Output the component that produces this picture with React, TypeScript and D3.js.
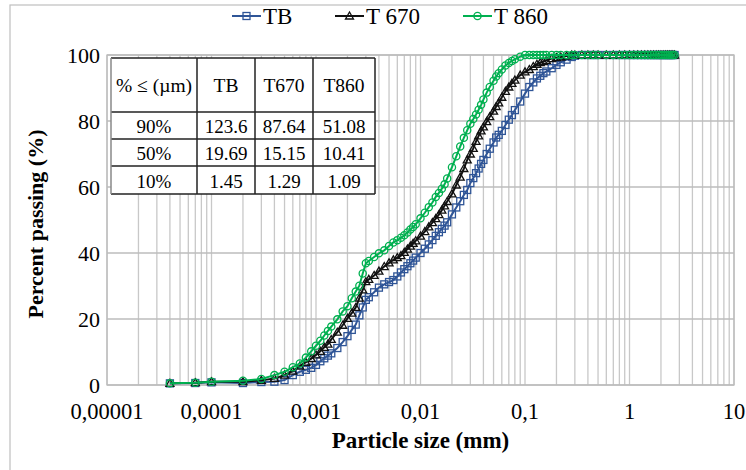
import React from 'react'
import * as d3 from 'd3'

// particle sizes (µm) shared by the three samples
const sizesUm = [
  0.04, 0.07, 0.1, 0.2, 0.3, 0.4, 0.5, 0.6, 0.7, 0.8, 0.9,
  1.0, 1.1, 1.2, 1.3, 1.4, 1.6, 1.8, 2.0, 2.2, 2.4, 2.6, 2.8, 3.0,
  3.2, 3.6, 4.0, 4.5, 5, 5.5, 6, 6.5, 7, 7.5, 8, 8.5, 9,
  10, 11, 12, 13, 14, 15, 16, 17, 18,
  20, 22, 24, 26, 28, 30, 32, 34, 36, 38, 40,
  43, 46, 50, 53, 56, 60, 65, 70, 75, 80, 90,
  100, 110, 120, 130, 140, 150, 160, 180, 200, 220, 250, 280,
  300, 350, 400, 450, 500, 600, 700, 800, 900,
  1000, 1100, 1200, 1300, 1400, 1500, 1600, 1700, 1800, 1900, 2000, 2100, 2200, 2300, 2400, 2500, 2600, 2700,
]

const tbPassing = [
  0.5, 0.6, 0.8, 0.6, 0.9, 1.0, 1.5, 3.0, 4.0, 4.6, 5.2,
  6.1, 7.2, 8.1, 8.9, 9.6, 11.2, 13.0, 14.8, 16.7, 18.3, 21.1, 23.5, 25.8,
  26.6, 28.1, 29.5, 30.5, 31.2, 31.8, 32.9, 34.1, 35.1, 36.0, 36.9, 37.7, 38.6,
  40.0, 41.3, 42.6, 43.9, 45.2, 46.3, 47.3, 48.3, 49.3,
  51.7, 53.8, 55.7, 57.6, 59.1, 61.2, 62.7, 64.2, 65.6, 67.0, 68.2,
  70.0, 71.6, 73.5, 75.0, 75.8, 77.0, 78.8, 80.4, 81.8, 83.3, 85.9,
  88.3, 90.3, 91.7, 92.9, 93.7, 94.5, 95.0, 96.0, 97.0, 97.8, 98.6, 99.4,
  99.8, 100, 100, 100, 100, 100, 100, 100, 100,
  100, 100, 100, 100, 100, 100, 100, 100, 100, 100, 100, 100, 100, 100, 100, 100, 100, 100,
]

const t670Passing = [
  0.5, 0.7, 1.0, 1.0, 1.4, 2.0, 3.0, 4.2, 5.7, 6.9, 8.0,
  9.1, 10.2, 11.4, 12.4, 13.8, 16.0, 18.1, 20.2, 21.8, 23.5, 26.3, 28.8, 31.3,
  32.0, 33.2, 34.5, 35.9, 37.0, 37.9, 38.6, 39.2, 40.2, 41.2, 42.1, 42.9, 43.7,
  45.1, 46.5, 47.9, 49.2, 50.4, 51.6, 53.0, 54.3, 55.6,
  57.9, 60.6, 63.0, 65.6, 68.2, 70.0, 71.7, 73.8, 75.5, 77.0, 78.2,
  79.8, 81.3, 83.0, 84.4, 85.5, 87.2, 89.0, 90.3, 91.4, 92.4, 93.9,
  94.9, 95.6, 96.5, 97.2, 97.7, 98.0, 98.4, 98.9, 99.2, 99.4, 99.7, 100,
  100, 100, 100, 100, 100, 100, 100, 100, 100,
  100, 100, 100, 100, 100, 100, 100, 100, 100, 100, 100, 100, 100, 100, 100, 100, 100, 100,
]

const t860Passing = [
  0.5, 0.7, 1.0, 1.3, 1.8, 3.0, 4.0, 5.4, 6.5, 8.3, 10.2,
  11.9, 13.4, 15.0, 16.4, 17.7, 19.9, 22.3, 23.9, 26.3, 28.3, 30.1, 33.8, 36.9,
  37.6, 38.8, 39.9, 40.8, 42.1, 43.2, 43.9, 44.6, 45.4, 46.2, 47.1, 47.9, 48.7,
  50.5, 52.2, 53.9, 55.3, 57.0, 58.2, 59.5, 60.8, 62.6,
  66.0, 69.3, 72.3, 74.9, 77.2, 79.2, 80.6, 82.0, 83.4, 84.9, 86.5,
  88.6, 90.3, 92.2, 93.5, 94.5, 95.6, 96.8, 97.6, 98.2, 98.7, 99.5,
  100, 100, 100, 100, 100, 100, 100, 100, 100, 100, 100, 100,
  100, 100, 100, 100, 100, 100, 100, 100, 100,
  100, 100, 100, 100, 100, 100, 100, 100, 100, 100, 100, 100, 100, 100, 100, 100, 100, 100,
]

const xTicks = [0.00001, 0.0001, 0.001, 0.01, 0.1, 1, 10]
const xTickLabels = ['0,00001', '0,0001', '0,001', '0,01', '0,1', '1', '10']
const yTicks = [0, 20, 40, 60, 80, 100]

const tableHead = ['% ≤ (µm)', 'TB', 'T670', 'T860']
const tableRows = [
  ['90%', '123.6', '87.64', '51.08'],
  ['50%', '19.69', '15.15', '10.41'],
  ['10%', '1.45', '1.29', '1.09'],
]

const FONT = '"Liberation Serif", "Times New Roman", serif'
const W = 746
const H = 470
const plot = { left: 107, right: 734, top: 55, bottom: 385 }

const series = [
  { name: 'TB', color: '#2F5597', marker: 'square', values: tbPassing },
  { name: 'T 670', color: '#111111', marker: 'triangle', values: t670Passing },
  { name: 'T 860', color: '#00B050', marker: 'circle', values: t860Passing },
]

function Marker({ kind, x, y, color }) {
  if (kind === 'square')
    return <rect x={x - 3.5} y={y - 3.5} width={7} height={7} fill="none" stroke={color} strokeWidth={1.3} />
  if (kind === 'triangle')
    return <path d={`M${x},${y - 4}L${x + 4},${y + 3}L${x - 4},${y + 3}Z`} fill="none" stroke={color} strokeWidth={1.3} />
  return <circle cx={x} cy={y} r={3.6} fill="none" stroke={color} strokeWidth={1.3} />
}

export default function App() {
  const x = d3.scaleLog().domain([1e-5, 10]).range([plot.left, plot.right])
  const y = d3.scaleLinear().domain([0, 100]).range([plot.bottom, plot.top])

  // minor + major vertical grid values
  const gridX: number[] = []
  for (let k = -5; k < 1; k++) {
    for (let m = 1; m < 10; m++) gridX.push(m * Math.pow(10, k))
  }
  gridX.push(10)

  const line = d3.line<number>()
    .x((_, i) => x(sizesUm[i] / 1000))
    .y(v => y(v))

  // table geometry
  const tX = [111, 197, 255, 313, 375]
  const tY = [58, 112, 139, 166, 194]

  const legend = [
    { x0: 232, tx: 263 },
    { x0: 335, tx: 366 },
    { x0: 463, tx: 494 },
  ]

  return (
    <svg width={W} height={H} style={{ position: 'absolute', left: 0, top: 0, background: '#fff' }} fontFamily={FONT}>
      <rect x={10} y={5} width={W} height={H} fill="#fff" stroke="#bfbfbf" strokeWidth={1.2} />

      {/* grid */}
      {gridX.map((g, i) => (
        <line key={'gx' + i} x1={x(g)} x2={x(g)} y1={plot.top} y2={plot.bottom} stroke="#c8c8c8" strokeWidth={1.3} />
      ))}
      {yTicks.map(t => (
        <line key={'gy' + t} x1={plot.left} x2={plot.right} y1={y(t)} y2={y(t)} stroke="#bcbcbc" strokeWidth={1.3} />
      ))}
      <rect x={plot.left} y={plot.top} width={plot.right - plot.left} height={plot.bottom - plot.top} fill="none" stroke="#bcbcbc" strokeWidth={1.3} />

      {/* table */}
      <rect x={tX[0]} y={tY[0]} width={tX[4] - tX[0]} height={tY[4] - tY[0]} fill="#fff" />
      {tY.map((ty, i) => (
        <line key={'tr' + i} x1={tX[0]} x2={tX[4]} y1={ty} y2={ty} stroke="#222" strokeWidth={1.5} />
      ))}
      {tX.map((tx, i) => (
        <line key={'tc' + i} x1={tx} x2={tx} y1={tY[0]} y2={tY[4]} stroke={i === 0 ? '#888' : '#222'} strokeWidth={1.5} />
      ))}
      {tableHead.map((h, i) => (
        <text key={'th' + i} x={(tX[i] + tX[i + 1]) / 2} y={(tY[0] + tY[1]) / 2} textAnchor="middle" dominantBaseline="central" fontSize={19.5}>{h}</text>
      ))}
      {tableRows.map((row, r) => row.map((c, i) => (
        <text key={'td' + r + i} x={(tX[i] + tX[i + 1]) / 2} y={(tY[r + 1] + tY[r + 2]) / 2 + 1} textAnchor="middle" dominantBaseline="central" fontSize={19}>{c}</text>
      )))}

      {/* series */}
      {series.map(s => (
        <g key={s.name}>
          <path d={line(s.values) || ''} fill="none" stroke={s.color} strokeWidth={2} />
          {s.values.map((v, i) => (
            <Marker key={i} kind={s.marker} x={x(sizesUm[i] / 1000)} y={y(v)} color={s.color} />
          ))}
        </g>
      ))}

      {/* axes labels */}
      {yTicks.map(t => (
        <text key={'yl' + t} x={100} y={y(t)} textAnchor="end" dominantBaseline="central" fontSize={22}>{t}</text>
      ))}
      {xTicks.map((t, i) => (
        <text key={'xl' + t} x={x(t)} y={411} textAnchor="middle" dominantBaseline="central" fontSize={22.5}>{xTickLabels[i]}</text>
      ))}
      <text x={(plot.left + plot.right) / 2} y={440} textAnchor="middle" dominantBaseline="central" fontSize={23} fontWeight="bold">Particle size (mm)</text>
      <text transform={`translate(35,${(plot.top + plot.bottom) / 2 + 4}) rotate(-90)`} textAnchor="middle" dominantBaseline="central" fontSize={22} fontWeight="bold">Percent passing  (%)</text>

      {/* legend */}
      {series.map((s, i) => (
        <g key={'lg' + i}>
          <line x1={legend[i].x0} x2={legend[i].x0 + 29} y1={16} y2={16} stroke={s.color} strokeWidth={2} />
          <Marker kind={s.marker} x={legend[i].x0 + 14.5} y={16} color={s.color} />
          <text x={legend[i].tx} y={16} dominantBaseline="central" fontSize={23}>{s.name}</text>
        </g>
      ))}
    </svg>
  )
}
